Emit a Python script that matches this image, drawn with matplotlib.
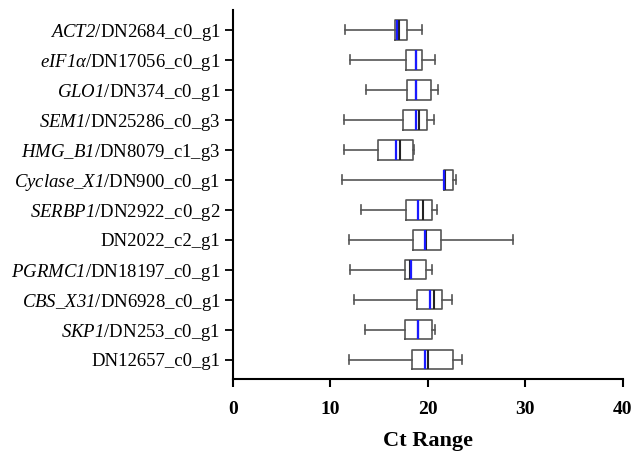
import matplotlib.pyplot as plt

plt.rcParams['font.family'] = ['Liberation Serif', 'DejaVu Serif']
plt.rcParams['mathtext.fontset'] = 'custom'
plt.rcParams['mathtext.rm'] = 'Liberation Serif:italic'
plt.rcParams['mathtext.it'] = 'Liberation Serif:italic'

# gene labels (top to bottom)
labels = [r'$\mathit{ACT2}$/DN2684_c0_g1',
          r'$\mathit{eIF1\alpha}$/DN17056_c0_g1',
          r'$\mathit{GLO1}$/DN374_c0_g1',
          r'$\mathit{SEM1}$/DN25286_c0_g3',
          r'$\mathit{HMG\_B1}$/DN8079_c1_g3',
          r'$\mathit{Cyclase\_X1}$/DN900_c0_g1',
          r'$\mathit{SERBP1}$/DN2922_c0_g2',
          'DN2022_c2_g1',
          r'$\mathit{PGRMC1}$/DN18197_c0_g1',
          r'$\mathit{CBS\_X31}$/DN6928_c0_g1',
          r'$\mathit{SKP1}$/DN253_c0_g1',
          'DN12657_c0_g1']

# Ct statistics
whislo = [11.5, 12.0, 13.6, 11.4, 11.4, 11.2, 13.1, 11.9, 12.0, 12.4, 13.5, 11.9]
q1     = [16.6, 17.7, 17.8, 17.4, 14.9, 21.6, 17.7, 18.5, 17.6, 18.9, 17.6, 18.4]
med    = [17.0, 18.8, 18.8, 19.1, 17.1, 21.7, 19.5, 19.75, 18.2, 20.6, 19.0, 20.0]
mean   = [16.8, 18.8, 18.8, 18.8, 16.7, 21.6, 19.0, 19.65, 18.3, 20.2, 19.0, 19.7]
q3     = [17.9, 19.4, 20.3, 19.9, 18.5, 22.6, 20.4, 21.3, 19.8, 21.4, 20.4, 22.6]
whishi = [19.4, 20.7, 21.0, 20.6, 18.6, 22.9, 20.9, 28.7, 20.4, 22.5, 20.7, 23.5]

stats = []
for i in range(len(labels)):
    stats.append(dict(whislo=whislo[i], q1=q1[i], med=med[i], mean=mean[i],
                      q3=q3[i], whishi=whishi[i], fliers=[]))

fig = plt.figure(figsize=(6.34, 4.53), dpi=100)
ax = fig.add_axes([0.3675, 0.1634, 0.615, 0.815])

pos = list(range(len(labels), 0, -1))
edge = '#555555'
ax.bxp(stats, positions=pos, vert=False, widths=0.66, capwidths=0.3,
       showmeans=True, meanline=True,
       boxprops=dict(color=edge, linewidth=1.2),
       whiskerprops=dict(color=edge, linewidth=1.2),
       capprops=dict(color=edge, linewidth=1.2),
       medianprops=dict(color='#222222', linewidth=1.5),
       meanprops=dict(color='#1a1aff', linestyle='-', linewidth=1.6))

ax.set_xlim(0, 40)
ax.set_ylim(0.35, 12.67)
ax.set_xticks([0, 10, 20, 30, 40])
ax.set_yticks(pos)
ax.set_yticklabels(labels, fontsize=13.5)
for t in ax.get_xticklabels():
    t.set_fontweight('bold')
    t.set_fontsize(14)
ax.set_xlabel('Ct Range', fontsize=16, fontweight='bold', labelpad=9)

ax.spines['top'].set_visible(False)
ax.spines['right'].set_visible(False)
ax.spines['left'].set_linewidth(1.5)
ax.spines['bottom'].set_linewidth(1.5)
ax.tick_params(axis='x', length=6, width=1.5, pad=10)
ax.tick_params(axis='y', length=6, width=1.3, pad=3)

fig.savefig('out.png', dpi=100)
